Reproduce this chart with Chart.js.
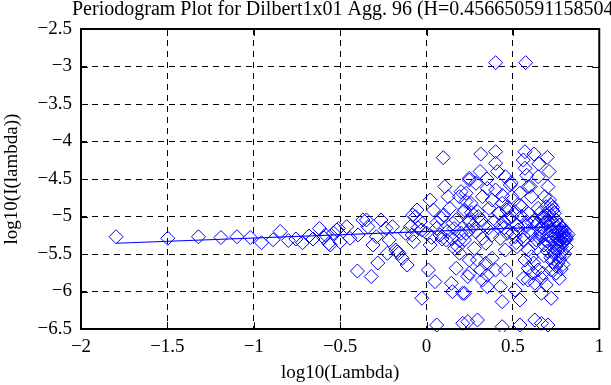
<!DOCTYPE html>
<html>
<head>
<meta charset="utf-8">
<script src="https://cdn.jsdelivr.net/npm/chart.js"></script>
<style>
  body { margin: 0; background: #fff; }
</style>
</head>
<body>
<canvas id="periodogram" width="611" height="385"></canvas>
<script>
  const titleText = "Periodogram Plot for Dilbert1x01 Agg. 96 (H=0.456650591158504)";
  const xTicks = [-2, -1.5, -1, -0.5, 0, 0.5, 1];
  const yTicks = [-6.5, -6, -5.5, -5, -4.5, -4, -3.5, -3, -2.5];

  // log10(Lambda) / log10(I(lambda)) pairs
  const logLambda = [
    -1.797, -1.498, -1.32, -1.19, -1.097, -1.02, -0.955, -0.888, -0.847, -0.80,
    -0.756, -0.718, -0.68, -0.657, -0.62, -0.595, -0.566, -0.538, -0.51, -0.50,
    -0.585, -0.557,
    0.097, -0.519, -0.462, -0.443, -0.396, -0.348, -0.339, -0.31, -0.29, -0.263,
    -0.282, -0.32, -0.40, -0.235, -0.216, -0.197, -0.226, -0.178, -0.16, -0.14,
    -0.112, -0.121, -0.093, -0.074, -0.064, -0.055, -0.036, -0.027, 0.021, 0.021,
    0.011, 0.049, -0.027, 0.059, 0.04, 0.059, 0.078, 0.087, 0.106, 0.125,
    0.115, 0.134, 0.153, 0.172, 0.144, 0.15, 0.182, 0.20, 0.22, 0.21,
    0.229, 0.239, 0.248, 0.248, 0.248, -0.169, -0.368, -0.083,
    0.191, 0.215, 0.248, 0.172, 0.20, 0.144, 0.22, 0.163, 0.191,
    0.40, 0.574, 0.314, 0.40, 0.57, 0.623, 0.699, 0.40, 0.41, 0.56,
    0.57, 0.456, 0.485, 0.646, 0.703, 0.248, 0.286, 0.229, 0.352, 0.40,
    0.324, 0.257, 0.38, 0.438, 0.494, 0.541, 0.589, 0.608, 0.684, 0.712,
    0.22, 0.295, 0.362, 0.419, 0.466, 0.513, 0.551, 0.589, 0.646, 0.693,
    0.722, 0.74, 0.248, 0.314, 0.39, 0.447, 0.494, 0.523, 0.58, 0.627,
    0.674, 0.703, 0.75, 0.769, 0.778, 0.797, 0.807, 0.778, 0.75, 0.722,
    0.693, 0.665, 0.712, 0.76, 0.74, 0.769, 0.229, 0.286, 0.324, 0.38,
    0.428, 0.466, 0.513, 0.56, 0.608, 0.636, 0.456, 0.523, 0.589, 0.277,
    0.343, 0.295, 0.343, 0.38, 0.248, 0.314, 0.352, 0.40, 0.456, 0.57,
    0.608, 0.589, 0.617, 0.646, 0.674, 0.722, 0.75, 0.769, 0.56, 0.589,
    0.627, 0.665, 0.693, 0.324, 0.352, 0.428, 0.21, 0.513, 0.665, 0.722,
    0.438, 0.541, 0.239, 0.295, 0.438, 0.541, 0.627, 0.665, 0.703,
    0.66, 0.68, 0.70, 0.72, 0.73, 0.74, 0.75, 0.76, 0.77, 0.78,
    0.79, 0.80, 0.81, 0.80, 0.79, 0.78, 0.77, 0.76, 0.75, 0.74,
    0.73, 0.72, 0.71, 0.70, 0.69, 0.68, 0.67, 0.66, 0.65, 0.64,
    0.63, 0.76, 0.78, 0.75, 0.77, 0.79, 0.81, 0.82, 0.74, 0.72,
    0.70, 0.73, 0.71, 0.69, 0.67,
    0.45, 0.48, 0.50, 0.53, 0.55, 0.57, 0.59, 0.61, 0.56, 0.52,
    0.47, 0.43, 0.36, 0.33, 0.30, 0.27, 0.26,
    0.0, 0.03, 0.06, 0.09, 0.12, 0.16, 0.19, -0.05, -0.08, 0.10,
    0.77, 0.79, 0.80, 0.78, 0.76, 0.81, 0.75, 0.73, 0.68, 0.62,
    0.60, 0.54, 0.49, 0.44, 0.35, 0.31, 0.42, 0.58, 0.65, 0.71
  ];
  const logPower = [
    -5.27, -5.29, -5.27, -5.28, -5.27, -5.28, -5.35, -5.31, -5.20, -5.32,
    -5.30, -5.35, -5.26, -5.30, -5.16, -5.28, -5.36, -5.22, -5.16, -5.34,
    -5.247, -5.38,
    -4.216, -5.18, -5.136, -5.29, -5.246, -5.046, -5.136, -5.38, -5.27, -5.046,
    -5.62, -5.80, -5.727, -5.157, -5.313, -5.136, -5.49, -5.447, -5.49, -5.557,
    -5.647, -5.224, -5.136, -5.336, -5.003, -4.913, -5.069, -5.18, -4.78, -5.38,
    -5.713, -5.869, -6.09, -6.447, -4.913, -5.157, -5.246, -5.024, -4.602, -4.736,
    -5.313, -4.891, -5.091, -5.69, -5.89, -6.002, -5.403, -4.669, -6.024, -6.424,
    -4.80, -5.80, -4.513, -5.18, -5.58, -5.47, -5.046, -5.246,
    -4.736, -4.936, -5.046, -5.046, -5.224, -5.29, -5.313, -5.424, -5.49,
    -2.949, -2.949, -4.167, -4.136, -4.136, -4.167, -4.211, -4.29, -4.40, -4.247,
    -4.357, -4.469, -4.58, -4.469, -4.602, -4.49, -4.557, -4.69, -4.624, -4.647,
    -4.736, -4.824, -4.78, -4.824, -4.736, -4.69, -4.602, -4.736, -4.736, -4.78,
    -4.913, -4.936, -4.891, -4.958, -4.913, -4.936, -4.869, -4.958, -4.891, -4.869,
    -4.847, -4.958, -5.069, -5.046, -5.069, -5.069, -5.003, -5.113, -5.069, -5.046,
    -5.003, -5.069, -5.046, -5.113, -5.18, -5.246, -5.29, -5.313, -5.224, -5.269,
    -5.202, -5.269, -5.357, -5.402, -5.469, -5.536, -5.224, -5.202, -5.29, -5.246,
    -5.29, -5.224, -5.269, -5.313, -5.246, -5.313, -5.447, -5.402, -5.447, -5.424,
    -5.357, -5.58, -5.624, -5.557, -5.757, -5.713, -5.78, -5.713, -5.713, -5.58,
    -5.536, -5.69, -5.757, -5.713, -5.757, -5.713, -5.757, -5.824, -5.824, -5.847,
    -5.89, -5.824, -5.913, -5.847, -5.936, -5.936, -6.024, -5.98, -6.024, -6.09,
    -6.136, -6.113, -6.402, -6.38, -6.469, -6.447, -6.38, -6.424, -6.447,
    -4.95, -5.02, -4.98, -5.05, -4.92, -5.10, -5.15, -5.20, -5.25, -5.22,
    -5.28, -5.32, -5.26, -5.20, -5.35, -5.40, -5.33, -5.30, -5.36, -5.42,
    -5.30, -5.18, -5.12, -5.25, -5.32, -5.38, -5.15, -5.22, -5.28, -5.10,
    -5.35, -5.45, -5.48, -5.05, -5.12, -5.16, -5.30, -5.24, -5.50, -5.55,
    -5.46, -4.88, -4.96, -5.08, -5.02,
    -5.15, -5.02, -5.22, -5.18, -5.00, -5.12, -5.20, -5.08, -5.26, -5.35,
    -4.88, -5.12, -5.15, -5.12, -5.00, -5.12, -4.95,
    -5.22, -5.28, -5.08, -5.30, -5.20, -5.16, -5.32, -5.15, -4.98, -4.98,
    -5.58, -5.64, -5.50, -5.70, -5.62, -5.40, -5.66, -5.60, -5.52, -5.62,
    -4.60, -4.85, -4.55, -4.72, -4.50, -4.40, -4.95, -4.45, -4.30, -4.40
  ];

  // least squares fit line end points
  const fitX = [-1.797, 0.82];
  const fitY = [-5.357, -5.129];

  const serif = '"Liberation Serif", "Times New Roman", serif';
  const minus = v => (v < 0 ? "\u2212" : "") + Math.abs(v);

  const frame = {
    id: "frame",
    afterDraw(chart) {
      const { ctx, chartArea: a, scales } = chart;
      ctx.save();
      ctx.strokeStyle = "#000";
      ctx.lineWidth = 1;
      ctx.beginPath();
      xTicks.forEach(v => {
        const px = Math.round(scales.x.getPixelForValue(v)) + 0.5;
        ctx.moveTo(px, a.bottom); ctx.lineTo(px, a.bottom - 7);
        ctx.moveTo(px, a.top); ctx.lineTo(px, a.top + 7);
      });
      yTicks.forEach(v => {
        const py = Math.round(scales.y.getPixelForValue(v)) + 0.5;
        ctx.moveTo(a.left, py); ctx.lineTo(a.left + 7, py);
        ctx.moveTo(a.right, py); ctx.lineTo(a.right - 7, py);
      });
      ctx.stroke();
      ctx.lineWidth = 2;
      ctx.strokeRect(a.left, a.top, a.right - a.left, a.bottom - a.top);
      ctx.fillStyle = "#000";
      ctx.font = "20px " + serif;
      ctx.textBaseline = "top";
      ctx.textAlign = "left";
      ctx.fillText(titleText, 72, 0);
      ctx.restore();
    }
  };

  new Chart(document.getElementById("periodogram"), {
    type: "scatter",
    data: {
      datasets: [
        {
          data: logLambda.map((x, i) => ({ x: x, y: logPower[i] })),
          pointStyle: "rectRot",
          pointRadius: 7,
          borderColor: "#0000ff",
          backgroundColor: "rgba(0,0,0,0)",
          borderWidth: 1,
          clip: 3
        },
        {
          type: "line",
          data: fitX.map((x, i) => ({ x: x, y: fitY[i] })),
          borderColor: "#0000ff",
          borderWidth: 1.2,
          pointRadius: 0,
          fill: false
        }
      ]
    },
    options: {
      responsive: false,
      animation: false,
      events: [],
      layout: { padding: { top: 29, right: 2, left: 0, bottom: 0 } },
      plugins: { legend: { display: false }, tooltip: { enabled: false } },
      scales: {
        x: {
          type: "linear",
          min: -2,
          max: 1,
          afterBuildTicks: ax => { ax.ticks = xTicks.map(v => ({ value: v })); },
          afterFit: ax => { ax.height = 56; },
          grid: { color: "#000", lineWidth: 1, drawTicks: false },
          border: { display: false, dash: [6, 5] },
          ticks: {
            autoSkip: false,
            maxRotation: 0,
            padding: 7,
            color: "#000",
            font: { family: serif, size: 19 },
            callback: v => minus(v)
          },
          title: {
            display: true,
            text: "log10(Lambda)",
            color: "#000",
            font: { family: serif, size: 19 },
            padding: { top: 0, bottom: 1 }
          }
        },
        y: {
          min: -6.5,
          max: -2.5,
          afterBuildTicks: ax => { ax.ticks = yTicks.map(v => ({ value: v })); },
          afterFit: ax => { ax.width = 81; },
          grid: { color: "#000", lineWidth: 1, drawTicks: false },
          border: { display: false, dash: [6, 5] },
          ticks: {
            padding: 9,
            color: "#000",
            font: { family: serif, size: 19 },
            callback: v => minus(v)
          },
          title: {
            display: true,
            text: "log10(I(lambda))",
            color: "#000",
            font: { family: serif, size: 19 },
            padding: { top: 1, bottom: 0 }
          }
        }
      }
    },
    plugins: [frame]
  });
</script>
</body>
</html>
